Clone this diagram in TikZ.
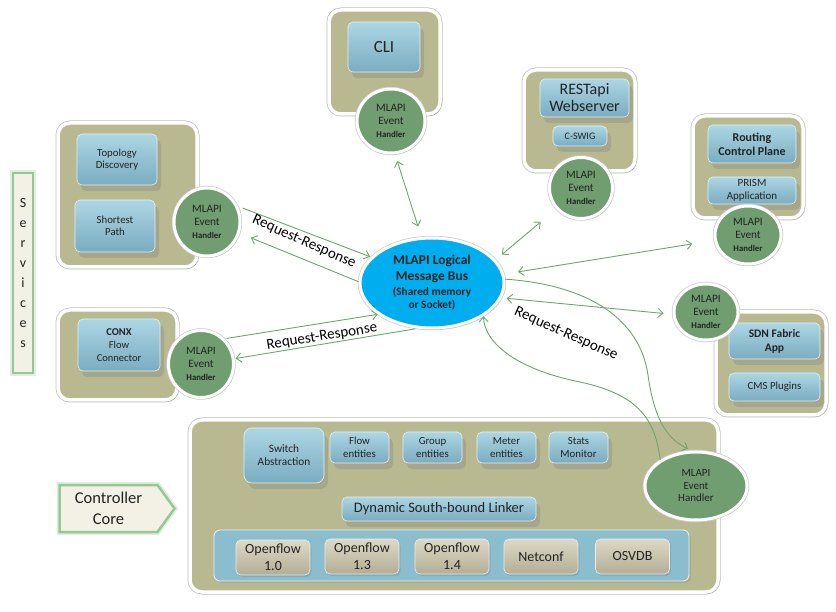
\documentclass[tikz,border=0pt]{standalone}
\usepackage{fontspec}
\setmainfont{Carlito}
\usetikzlibrary{shapes.geometric,shapes.symbols,shadows,arrows.meta}
\definecolor{grpolive}{RGB}{185,185,145}
\definecolor{boxtop}{RGB}{172,214,228}
\definecolor{boxbot}{RGB}{122,172,192}
\definecolor{boxedge}{RGB}{225,240,245}
\definecolor{hgreen}{RGB}{112,158,112}
\definecolor{cgreen}{RGB}{110,165,110}
\definecolor{busblue}{RGB}{0,174,239}
\definecolor{barblue}{RGB}{138,190,206}
\definecolor{oftop}{RGB}{222,217,198}
\definecolor{ofbot}{RGB}{178,173,148}
\definecolor{cream}{RGB}{243,241,230}
\definecolor{glow}{RGB}{150,200,150}
\definecolor{txt}{RGB}{35,35,35}
\begin{document}
\begin{tikzpicture}[x=1pt,y=-1pt,
  >={Straight Barb[length=5pt,width=9pt]},
  grp/.style={rounded corners=12pt, fill=grpolive, draw=white, line width=3.5pt, inner sep=0pt,
    preaction={draw=black!25, line width=5pt},
    drop shadow={opacity=0.35,shadow xshift=1.5pt,shadow yshift=-2pt}},
  ibox/.style={rounded corners=5pt, top color=boxtop, bottom color=boxbot, draw=boxedge, line width=0.6pt,
    align=center, text=txt, inner sep=1pt,
    drop shadow={opacity=0.33,shadow xshift=4pt,shadow yshift=-6pt}},
  ofbox/.style={rounded corners=5pt, top color=oftop, bottom color=ofbot, draw=white!85!gray, line width=0.6pt,
    align=center, text=txt, inner sep=1pt, font={\fontsize{14}{17}\selectfont},
    minimum width=74pt, minimum height=35pt,
    drop shadow={opacity=0.3,shadow xshift=1.5pt,shadow yshift=-2pt}},
  hnd/.style={ellipse, fill=hgreen, draw=white, line width=3pt, align=center, text=txt, inner sep=0pt,
    font={\fontsize{11.3}{13}\selectfont},
    preaction={draw=black!20, line width=4.5pt},
    drop shadow={opacity=0.3,shadow xshift=1pt,shadow yshift=-1.5pt}},
  conn/.style={draw=cgreen, line width=0.9pt},
  rr/.style={font={\fontsize{15}{17}\selectfont}, text=black, inner sep=0pt},
  tag/.style={fill=cream, draw=glow, line width=2.5pt, text=txt, align=center,
    preaction={draw=glow!60, line width=6pt, opacity=0.5}}
]
\useasboundingbox (0,0) rectangle (836,612);

% ---------- Services label ----------
\node[tag, minimum width=20pt, minimum height=200pt, inner sep=0pt,
  font={\fontsize{14}{20}\selectfont}] (serv) at (23,273) {S\\e\\r\\v\\i\\c\\e\\s};

% ---------- Controller Core label ----------
\node[tag, shape=signal, signal to=east, signal pointer angle=108,
  minimum width=115pt, minimum height=47pt, inner sep=0pt,
  font={\fontsize{16.5}{21}\selectfont}] (ccore) at (108.5,508.5) {Controller\\Core};

% ---------- Groups ----------
\node[grp, minimum width=139pt, minimum height=144pt] (g1) at (127.5,195) {};
\node[grp, minimum width=119pt, minimum height=90pt] (g2) at (117.5,355) {};
\node[grp, minimum width=111pt, minimum height=104pt] (g3) at (384.5,62) {};
\node[grp, minimum width=111pt, minimum height=101pt] (g4) at (579.5,120.5) {};
\node[grp, minimum width=110pt, minimum height=102pt] (g5) at (748,167) {};
\node[grp, minimum width=110pt, minimum height=103pt] (g6) at (771,363.5) {};
\node[grp, minimum width=528pt, minimum height=172pt] (g7) at (454,506) {};

% ---------- Inner boxes ----------
\node[ibox, minimum width=80pt, minimum height=51pt, font={\fontsize{10.8}{12.5}\selectfont}] (topo) at (117,159.5) {Topology\\Discovery};
\node[ibox, minimum width=80pt, minimum height=52pt, font={\fontsize{10.8}{12.5}\selectfont}] (spath) at (115,226) {Shortest\\Path};
\node[ibox, minimum width=82pt, minimum height=52pt, font={\fontsize{10.5}{13}\selectfont}] (conx) at (119,345) {\textbf{CONX}\\Flow\\Connector};
\node[ibox, minimum width=72pt, minimum height=50pt, font={\fontsize{17}{19}\selectfont}] (cli) at (384,47) {CLI};
\node[ibox, minimum width=89pt, minimum height=38pt, font={\fontsize{16}{17}\selectfont}] (rest) at (584.5,98) {RESTapi\\Webserver};
\node[ibox, minimum width=54pt, minimum height=20pt, font={\fontsize{10}{12}\selectfont}] (cswig) at (580,136) {C-SWIG};
\node[ibox, minimum width=88pt, minimum height=38pt, font={\fontsize{12}{14}\selectfont\bfseries}] (rcp) at (752,144) {Routing\\Control Plane};
\node[ibox, minimum width=88pt, minimum height=27pt, font={\fontsize{11}{13}\selectfont}] (prism) at (752,190.5) {PRISM\\Application};
\node[ibox, minimum width=91pt, minimum height=36pt, font={\fontsize{11.5}{14}\selectfont\bfseries}] (sdn) at (774.5,341) {SDN Fabric\\App};
\node[ibox, minimum width=91pt, minimum height=28pt, font={\fontsize{10.8}{13}\selectfont}] (cms) at (774.5,387) {CMS Plugins};

% core internals
\node[ibox, rounded corners=8pt, minimum width=80pt, minimum height=55pt, font={\fontsize{11.3}{13}\selectfont}] (sw) at (284,455.5) {Switch\\Abstraction};
\node[ibox, minimum width=59pt, minimum height=31pt, font={\fontsize{10.8}{13}\selectfont}] (flow) at (359.5,447.5) {Flow\\entities};
\node[ibox, minimum width=59pt, minimum height=31pt, font={\fontsize{10.8}{13}\selectfont}] (group) at (432.5,447.5) {Group\\entities};
\node[ibox, minimum width=59pt, minimum height=31pt, font={\fontsize{10.8}{13}\selectfont}] (meter) at (506.5,447.5) {Meter\\entities};
\node[ibox, minimum width=59pt, minimum height=31pt, font={\fontsize{10.8}{13}\selectfont}] (stats) at (578.5,447.5) {Stats\\Monitor};
\node[ibox, minimum width=194pt, minimum height=24pt, font={\fontsize{14.5}{16}\selectfont}] (dsl) at (439,509) {Dynamic South-bound Linker};
\node[rounded corners=6pt, fill=barblue, draw=white!80!barblue, line width=0.8pt, minimum width=475pt, minimum height=51pt,
  drop shadow={opacity=0.25,shadow xshift=2pt,shadow yshift=-2pt}] (bar) at (451.5,555.5) {};
\node[ofbox] (of10) at (273,557.5) {Openflow\\1.0};
\node[ofbox] (of13) at (362,556.5) {Openflow\\1.3};
\node[ofbox] (of14) at (452,556.5) {Openflow\\1.4};
\node[ofbox] (netconf) at (541,556.5) {Netconf};
\node[ofbox] (osvdb) at (632.5,556.5) {OSVDB};

% ---------- Handlers ----------
\newcommand{\hndtext}{MLAPI\\Event\\{\fontsize{8.8}{13}\selectfont\bfseries Handler}}
\node[hnd, minimum width=66pt, minimum height=68pt] (h1) at (207,222) {\hndtext};
\node[hnd, minimum width=65pt, minimum height=67pt] (h2) at (201,364) {\hndtext};
\node[hnd, minimum width=68pt, minimum height=64pt] (h3) at (391,121) {\hndtext};
\node[hnd, minimum width=63pt, minimum height=61pt] (h4) at (581,188) {\hndtext};
\node[hnd, minimum width=66pt, minimum height=58pt] (h5) at (748,235) {\hndtext};
\node[hnd, minimum width=64pt, minimum height=56pt] (h6) at (706,312) {\hndtext};
\node[hnd, minimum width=102pt, minimum height=68pt, font={\fontsize{11}{12.5}\selectfont}] (h7) at (696,486) {MLAPI\\Event\\Handler};

% ---------- Message bus ----------
\node[ellipse, fill=busblue, draw=white, line width=3pt, minimum width=144pt, minimum height=90pt,
  align=center, text=txt, inner sep=0pt, font={\fontsize{13.5}{16}\selectfont\bfseries},
  preaction={draw=black!20, line width=4.5pt},
  drop shadow={opacity=0.3,shadow xshift=1pt,shadow yshift=-1.5pt}] (bus) at (432,283)
  {MLAPI Logical\\Message Bus\\[-1pt]{\fontsize{11.3}{13}\selectfont (Shared memory}\\[-3pt]{\fontsize{11.3}{13}\selectfont or Socket)}};

% ---------- Connectors ----------
\draw[conn,->, shorten <=5pt, shorten >=1pt] (h1.27) -- (bus.157);
\draw[conn,->, shorten >=12pt] (bus.179) -- (h1.-19);
\draw[conn,->, shorten <=2pt] (h2.47) -- (bus.210);
\draw[conn,->, shorten <=2pt, shorten >=1pt] (bus.252) -- (h2.9);
\draw[conn,<->, shorten <=7pt, shorten >=11pt] (h3.-83) -- (bus.103);
\draw[conn,<->, shorten <=8pt, shorten >=20pt] (bus.20) -- (h4.220);
\draw[conn,<->, shorten <=14pt, shorten >=22pt] (bus.7) -- (h5.189);
\draw[conn,<->, shorten <=5pt, shorten >=9pt] (bus.-12) -- (h6.184);
\draw[conn,->, shorten >=4pt] (bus.3) .. controls (590,285) and (640,320) .. (648,375)
  .. controls (655,425) and (670,440) .. (h7.97);
\draw[conn,->] (h7.144) .. controls (655,420) and (640,395) .. (580,382)
  .. controls (520,370) and (485,345) .. (bus.-33);

% ---------- Labels ----------
\node[rr, rotate=-24] (rr1) at (304,242) {Request-Response};
\node[rr, rotate=9] (rr2) at (322,337) {Request-Response};
\node[rr, rotate=-24] (rr3) at (566,334) {Request-Response};
\end{tikzpicture}
\end{document}
